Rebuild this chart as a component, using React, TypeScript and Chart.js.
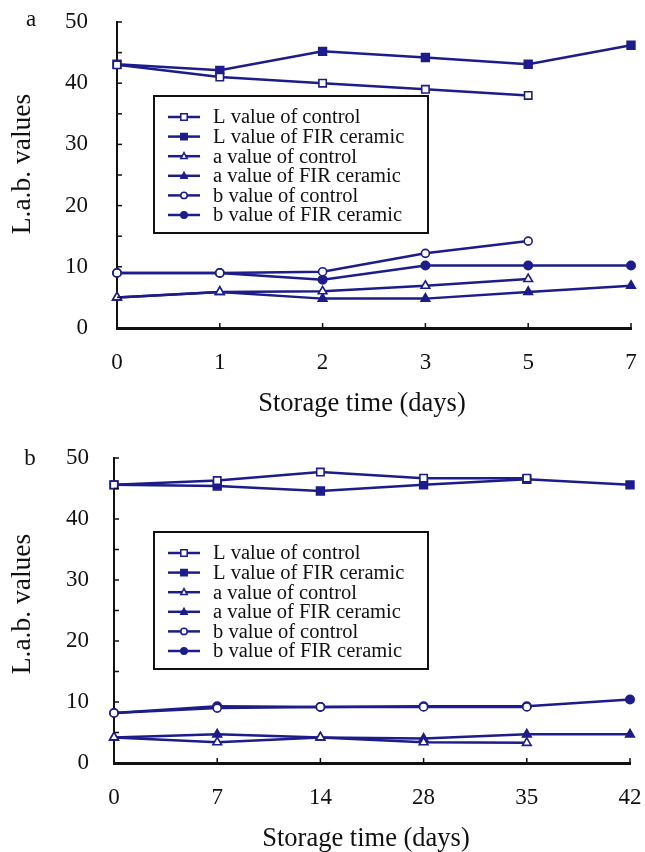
import React, { useEffect, useRef } from 'react';
import { Chart, registerables } from 'chart.js';

Chart.register(...registerables);

// ---------- data ----------
const seriesLabels = [
  'L value of control',
  'L value of FIR ceramic',
  'a value of control',
  'a value of FIR ceramic',
  'b value of control',
  'b value of FIR ceramic',
];

const daysA = ['0', '1', '2', '3', '5', '7'];
const lControlA = [43, 41, 40, 39, 38, null];
const lFirA = [43.1, 42.1, 45.2, 44.2, 43.1, 46.2];
const aControlA = [5, 5.9, 6, 6.9, 8, null];
const aFirA = [5, 5.9, 4.8, 4.8, 5.9, 6.9];
const bControlA = [9, 9, 9.2, 12.2, 14.2, null];
const bFirA = [9, 9, 7.9, 10.2, 10.2, 10.2];

const daysB = ['0', '7', '14', '28', '35', '42'];
const lControlB = [45.6, 46.3, 47.7, 46.7, 46.7, null];
const lFirB = [45.6, 45.4, 44.6, 45.6, 46.5, 45.6];
const aControlB = [4.2, 3.4, 4.2, 3.4, 3.3, null];
const aFirB = [4.2, 4.7, 4.2, 4.0, 4.7, 4.7];
const bControlB = [8.2, 9.0, 9.2, 9.2, 9.2, null];
const bFirB = [8.2, 9.3, 9.2, 9.3, 9.3, 10.4];

const yTickValues = [0, 10, 20, 30, 40, 50];
const xAxisTitle = 'Storage time (days)';
const yAxisTitle = 'L.a.b. values';

// ---------- styles ----------
const NAVY = '#1c1c8a';
const INK = '#111111';
const FONT = "'Liberation Serif', 'Times New Roman', serif";

const markerStyles = [
  { shape: 'rect', filled: false, r: 5.2 },
  { shape: 'rect', filled: true, r: 5.5 },
  { shape: 'triangle', filled: false, r: 5 },
  { shape: 'triangle', filled: true, r: 5 },
  { shape: 'circle', filled: false, r: 4 },
  { shape: 'circle', filled: true, r: 4.2 },
];

function buildDatasets(series: (number | null)[][]) {
  return series.map((data, i) => {
    const st = markerStyles[i];
    return {
      label: seriesLabels[i],
      data,
      borderColor: NAVY,
      borderWidth: 2.5,
      pointStyle: st.shape,
      pointRadius: st.r,
      pointBorderWidth: 1.6,
      pointBorderColor: NAVY,
      pointBackgroundColor: st.filled ? NAVY : '#ffffff',
      backgroundColor: st.filled ? NAVY : '#ffffff',
      tension: 0,
      fill: false,
    };
  });
}

function drawMarker(ctx: CanvasRenderingContext2D, shape: string, filled: boolean, x: number, y: number, r: number) {
  ctx.beginPath();
  if (shape === 'rect') {
    ctx.rect(x - r, y - r, 2 * r, 2 * r);
  } else if (shape === 'triangle') {
    ctx.moveTo(x, y - r * 1.1);
    ctx.lineTo(x + r, y + r * 0.75);
    ctx.lineTo(x - r, y + r * 0.75);
    ctx.closePath();
  } else {
    ctx.arc(x, y, r, 0, Math.PI * 2);
  }
  ctx.fillStyle = filled ? NAVY : '#ffffff';
  ctx.fill();
  ctx.lineWidth = 1.5;
  ctx.strokeStyle = NAVY;
  ctx.stroke();
}

const boxLegend = {
  id: 'boxLegend',
  afterDraw(chart: any, _args: any, opts: any) {
    const { ctx } = chart;
    const { x, y, w, h, rowTop, rowGap } = opts;
    ctx.save();
    ctx.fillStyle = '#ffffff';
    ctx.fillRect(x, y, w, h);
    ctx.lineWidth = 2;
    ctx.strokeStyle = INK;
    ctx.strokeRect(x, y, w, h);
    chart.data.datasets.forEach((ds: any, i: number) => {
      const cy = y + rowTop + i * rowGap;
      ctx.beginPath();
      ctx.moveTo(x + 14, cy);
      ctx.lineTo(x + 46, cy);
      ctx.lineWidth = 2.5;
      ctx.strokeStyle = NAVY;
      ctx.stroke();
      const st = markerStyles[i];
      drawMarker(ctx, st.shape, st.filled, x + 30, cy, 3.2);
      ctx.fillStyle = INK;
      ctx.font = `20.5px ${FONT}`;
      ctx.textBaseline = 'middle';
      ctx.textAlign = 'left';
      ctx.fillText(ds.label, x + 59, cy + 1);
    });
    ctx.restore();
  },
};

const innerTicks = {
  id: 'innerTicks',
  afterDraw(chart: any) {
    const { ctx } = chart;
    const xs = chart.scales.x;
    const ys = chart.scales.y;
    ctx.save();
    ctx.strokeStyle = INK;
    ctx.lineWidth = 1.5;
    for (let v = 0; v <= 50; v += 5) {
      const py = ys.getPixelForValue(v);
      ctx.beginPath();
      ctx.moveTo(xs.left, py);
      ctx.lineTo(xs.left + 5, py);
      ctx.stroke();
    }
    xs.ticks.forEach((_t: any, i: number) => {
      const px = xs.getPixelForTick(i);
      ctx.beginPath();
      ctx.moveTo(px, ys.bottom);
      ctx.lineTo(px, ys.bottom - 5);
      ctx.stroke();
    });
    ctx.restore();
  },
};

const panelText = {
  id: 'panelText',
  afterDraw(chart: any, _args: any, opts: any) {
    const { ctx } = chart;
    ctx.save();
    ctx.fillStyle = INK;
    ctx.textAlign = 'center';
    ctx.textBaseline = 'middle';
    // panel letter
    ctx.font = `23px ${FONT}`;
    ctx.fillText(opts.letter, opts.letterX, opts.letterY);
    // x axis title
    ctx.font = `26.5px ${FONT}`;
    ctx.fillText(xAxisTitle, opts.xTitleX, opts.xTitleY);
    // y axis title (rotated)
    ctx.translate(opts.yTitleX, opts.yTitleY);
    ctx.rotate(-Math.PI / 2);
    ctx.font = `27.5px ${FONT}`;
    ctx.fillText(yAxisTitle, 0, 0);
    ctx.restore();
  },
};

function makeConfig(p: {
  labels: string[];
  series: (number | null)[][];
  text: any;
  padTop: number;
  padRight: number;
  yWidth: number;
  yLabelPad: number;
  xHeight: number;
  legendY: number;
}) {
  return {
    type: 'line',
    data: { labels: p.labels, datasets: buildDatasets(p.series) },
    plugins: [innerTicks, boxLegend, panelText],
    options: {
      animation: false,
      responsive: false,
      devicePixelRatio: 1,
      layout: { padding: { top: p.padTop, right: p.padRight, left: 0, bottom: 0 } },
      plugins: {
        legend: { display: false },
        tooltip: { enabled: false },
        boxLegend: { x: 154, y: p.legendY, w: 274, h: 137, rowTop: 21, rowGap: 19.6 },
        panelText: p.text,
      },
      scales: {
        x: {
          type: 'category',
          offset: false,
          grid: { display: false, drawTicks: false },
          border: { display: true, color: INK, width: 3 },
          ticks: {
            color: INK,
            font: { family: FONT, size: 23 },
            padding: 21,
            maxRotation: 0,
            autoSkip: false,
          },
          title: { display: false },
          afterFit: (s: any) => {
            s.height = p.xHeight;
            s.paddingLeft = 0;
            s.paddingRight = 0;
          },
        },
        y: {
          type: 'linear',
          min: 0,
          max: 50,
          afterBuildTicks: (s: any) => {
            s.ticks = yTickValues.map((v) => ({ value: v }));
          },
          grid: { display: false, drawTicks: false },
          border: { display: true, color: INK, width: 2 },
          ticks: {
            color: INK,
            font: { family: FONT, size: 23 },
            padding: p.yLabelPad,
          },
          title: { display: false },
          afterFit: (s: any) => {
            s.width = p.yWidth;
            s.paddingTop = 0;
            s.paddingBottom = 0;
          },
        },
      },
    },
  } as any;
}

export default function App() {
  const refA = useRef<HTMLCanvasElement>(null);
  const refB = useRef<HTMLCanvasElement>(null);

  useEffect(() => {
    const chartA = new Chart(
      refA.current as HTMLCanvasElement,
      makeConfig({
        labels: daysA,
        series: [lControlA, lFirA, aControlA, aFirA, bControlA, bFirA],
        text: { letter: 'a', letterX: 31, letterY: 20, xTitleX: 362, xTitleY: 404, yTitleX: 23, yTitleY: 164 },
        padTop: 22,
        padRight: 14,
        yWidth: 117,
        yLabelPad: 29,
        xHeight: 98,
        legendY: 96,
      })
    );
    const chartB = new Chart(
      refB.current as HTMLCanvasElement,
      makeConfig({
        labels: daysB,
        series: [lControlB, lFirB, aControlB, aFirB, bControlB, bFirB],
        text: { letter: 'b', letterX: 30, letterY: 33, xTitleX: 366, xTitleY: 413, yTitleX: 23, yTitleY: 178 },
        padTop: 32,
        padRight: 15,
        yWidth: 114,
        yLabelPad: 25,
        xHeight: 89,
        legendY: 106,
      })
    );
    return () => {
      chartA.destroy();
      chartB.destroy();
    };
  }, []);

  return (
    <div style={{ position: 'absolute', left: 0, top: 0, width: 645, height: 852, background: '#ffffff' }}>
      <canvas ref={refA} width={645} height={426} style={{ display: 'block', width: 645, height: 426 }} />
      <canvas ref={refB} width={645} height={426} style={{ display: 'block', width: 645, height: 426 }} />
    </div>
  );
}
